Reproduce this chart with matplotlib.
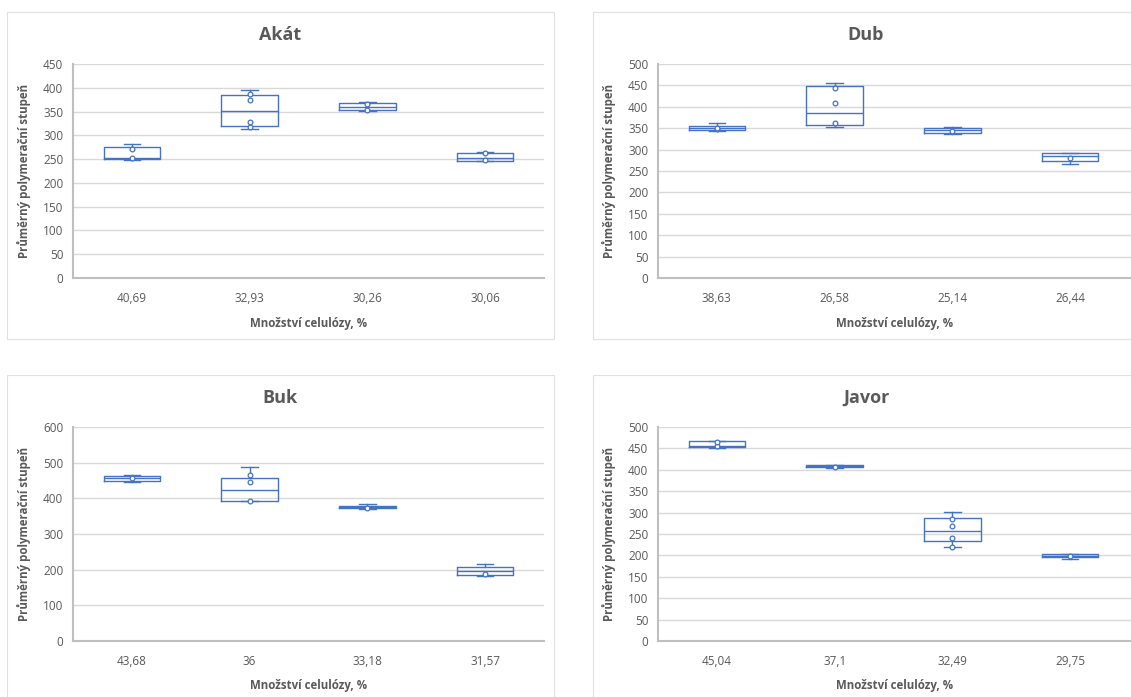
import matplotlib
matplotlib.use("Agg")
import matplotlib.pyplot as plt
from matplotlib.patches import Rectangle

plt.rcParams['font.family'] = ['Open Sans', 'DejaVu Sans']

# ---------------- data ----------------
akat_labels = ["40,69", "32,93", "30,26", "30,06"]
akat_min = [247.5, 314, 351, 245]
akat_q1 = [250, 320.5, 353, 247]
akat_med = [252, 352, 360.5, 252.5]
akat_q3 = [276, 385, 368, 263.7]
akat_max = [282, 395.5, 370, 265]
akat_points = [[253, 271], [317.7, 327.5, 375, 387], [352.7, 365], [249, 263.7]]

dub_labels = ["38,63", "26,58", "25,14", "26,44"]
dub_min = [343, 352.6, 336.2, 266.8]
dub_q1 = [345.6, 356.4, 339.3, 273.8]
dub_med = [351, 384.5, 344.9, 284.7]
dub_q3 = [355.7, 449, 350, 293]
dub_max = [362.7, 454.8, 352.6, 293]
dub_points = [[347, 351], [361, 409.5, 444.6], [343.2], [280.8]]

buk_labels = ["43,68", "36", "33,18", "31,57"]
buk_min = [445.7, 391.4, 370, 182.6]
buk_q1 = [449.5, 393, 371.7, 184.5]
buk_med = [457, 424, 375.5, 196.6]
buk_q3 = [463.5, 456, 379, 208.8]
buk_max = [466.3, 487, 383, 217]
buk_points = [[456], [392.3, 446.6, 466.3], [372.7], [189]]

javor_labels = ["45,04", "37,1", "32,49", "29,75"]
javor_min = [450.9, 404, 219, 192.7]
javor_q1 = [452.5, 405.6, 234, 195.8]
javor_med = [456.4, 408, 256.6, 199.7]
javor_q3 = [466.5, 411.9, 287, 202.8]
javor_max = [466.5, 411.9, 301, 202.8]
javor_points = [[456.4, 465.7], [406.4], [220, 239.5, 267.6, 285.5], [198.1]]

titles = ["Akát", "Dub", "Buk", "Javor"]
xlabel = "Množství celulózy, %"
ylabel = "Průměrný polymerační stupeň"

# ---------------- style ----------------
W, H = 1131, 697
BLUE = "#4472C4"
TXT = "#595959"
GRID = "#D9D9D9"
SPINE = "#BFBFBF"

fig = plt.figure(figsize=(W / 100, H / 100), dpi=100)
fig.patch.set_facecolor("white")


def fx(px):
    return px / W


def fy(py):
    return 1 - py / H


panels = [
    dict(title=titles[0], labels=akat_labels, mn=akat_min, q1=akat_q1, med=akat_med,
         q3=akat_q3, mx=akat_max, pts=akat_points, ymax=450, step=50,
         box=(7, 12, 554, 339), ax=(73, 64, 544, 278), ylx=24, tx=280),
    dict(title=titles[1], labels=dub_labels, mn=dub_min, q1=dub_q1, med=dub_med,
         q3=dub_q3, mx=dub_max, pts=dub_points, ymax=500, step=50,
         box=(593, 12, 1145, 339), ax=(658, 64, 1131, 278), ylx=609, tx=866),
    dict(title=titles[2], labels=buk_labels, mn=buk_min, q1=buk_q1, med=buk_med,
         q3=buk_q3, mx=buk_max, pts=buk_points, ymax=600, step=100,
         box=(7, 375, 554, 710), ax=(73, 427, 544, 641), ylx=24, tx=280),
    dict(title=titles[3], labels=javor_labels, mn=javor_min, q1=javor_q1, med=javor_med,
         q3=javor_q3, mx=javor_max, pts=javor_points, ymax=500, step=50,
         box=(593, 375, 1145, 710), ax=(658, 427, 1131, 641), ylx=609, tx=866),
]

for p in panels:
    bx0, by0, bx1, by1 = p["box"]
    fig.patches.append(Rectangle((fx(bx0), fy(by1)), fx(bx1 - bx0), (by1 - by0) / H,
                                 transform=fig.transFigure, fill=False,
                                 edgecolor="#E0E0E0", linewidth=0.8, zorder=0))
    x0, y0, x1, y1 = p["ax"]
    ax = fig.add_axes([fx(x0), fy(y1), fx(x1 - x0), (y1 - y0) / H])
    n = len(p["labels"])
    stats = []
    for i in range(n):
        stats.append(dict(whislo=p["mn"][i], q1=p["q1"][i], med=p["med"][i],
                          q3=p["q3"][i], whishi=p["mx"][i], fliers=[]))
    ax.bxp(stats, positions=list(range(n)), widths=0.48, showfliers=False,
           boxprops=dict(color=BLUE, linewidth=1.0),
           medianprops=dict(color=BLUE, linewidth=1.0),
           whiskerprops=dict(color=BLUE, linewidth=1.0),
           capprops=dict(color=BLUE, linewidth=1.0),
           capwidths=0.14, manage_ticks=False, zorder=3)
    for i, pts in enumerate(p["pts"]):
        ax.plot([i] * len(pts), pts, linestyle="none", marker="o", markersize=3.4,
                markerfacecolor="white", markeredgecolor=BLUE, markeredgewidth=0.9,
                zorder=4)
    right = 3.5 + ((x1 - x0) - 471) / 117.75
    ax.set_xlim(-0.5, right)
    ax.set_ylim(0, p["ymax"])
    ax.set_yticks(list(range(0, p["ymax"] + 1, p["step"])))
    ax.set_xticks(list(range(n)))
    ax.set_xticklabels(p["labels"])
    ax.yaxis.grid(True, color=GRID, linewidth=1.0, zorder=0)
    ax.set_axisbelow(True)
    for s in ["top", "right"]:
        ax.spines[s].set_visible(False)
    for s in ["left", "bottom"]:
        ax.spines[s].set_color(SPINE)
        ax.spines[s].set_linewidth(1.5)
    ax.tick_params(axis="both", length=0, labelsize=8.5, labelcolor=TXT)
    ax.tick_params(axis="x", pad=10)
    ax.tick_params(axis="y", pad=7)
    ax.set_facecolor("none")

    fig.text(fx(p["tx"]), fy(by0 + 23), p["title"], ha="center", va="center",
             fontsize=13, fontweight="bold", color=TXT)
    fig.text(fx((x0 + x1) / 2), fy(y1 + 45), xlabel, ha="center", va="center",
             fontsize=8.3, fontweight="bold", color=TXT)
    fig.text(fx(p["ylx"]), fy((y0 + y1) / 2), ylabel, ha="center", va="center",
             rotation=90, fontsize=8.3, fontweight="bold", color=TXT)

fig.savefig("out.png", dpi=100)
